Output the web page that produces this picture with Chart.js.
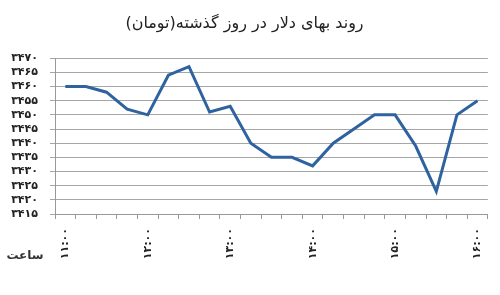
<!DOCTYPE html>
<html>
<head>
<meta charset="utf-8">
<title>روند بهای دلار</title>
<script src="https://cdn.jsdelivr.net/npm/chart.js"></script>
<style>
  html, body { margin: 0; padding: 0; background: #fff; }
  #wrap { width: 500px; height: 295px; }
</style>
</head>
<body>
<div id="wrap"><canvas id="dollarChart"></canvas></div>
<script>
// time of day, every 15 minutes from 11:00 to 16:00
const times = ['۱۱:۰۰','۱۱:۱۵','۱۱:۳۰','۱۱:۴۵','۱۲:۰۰','۱۲:۱۵','۱۲:۳۰','۱۲:۴۵','۱۳:۰۰','۱۳:۱۵','۱۳:۳۰',
               '۱۳:۴۵','۱۴:۰۰','۱۴:۱۵','۱۴:۳۰','۱۴:۴۵','۱۵:۰۰','۱۵:۱۵','۱۵:۳۰','۱۵:۴۵','۱۶:۰۰'];
// price in toman
const prices = [3460, 3460, 3458, 3452, 3450, 3464, 3467, 3451, 3453, 3440, 3435,
                3435, 3432, 3440, 3445, 3450, 3450, 3439, 3423, 3450, 3455];
// y axis labels, bottom to top
const yTickLabels = ['۳۴۱۵','۳۴۲۰','۳۴۲۵','۳۴۳۰','۳۴۳۵','۳۴۴۰','۳۴۴۵','۳۴۵۰','۳۴۵۵','۳۴۶۰','۳۴۶۵','۳۴۷۰'];

const titleText = 'روند بهای دلار در روز گذشته(تومان)';
const xAxisName = 'ساعت';

const faFont = "'DejaVu Sans', sans-serif";

// draws the small "hour" caption left of the x labels
const axisNamePlugin = {
    id: 'axisName',
    afterDraw(chart) {
        const ctx = chart.ctx;
        const area = chart.chartArea;
        ctx.save();
        ctx.font = 'bold 12px ' + faFont;
        ctx.fillStyle = '#333';
        ctx.textAlign = 'center';
        ctx.textBaseline = 'middle';
        ctx.fillText(xAxisName, area.left - 30, area.bottom + 42);
        ctx.restore();
    }
};

const ctx = document.getElementById('dollarChart').getContext('2d');
const dollarChart = new Chart(ctx, {
    type: 'line',
    data: {
        labels: times,
        datasets: [{
            label: 'قیمت',
            data: prices,
            borderColor: '#2f63a0',
            borderWidth: 3,
            pointRadius: 0,
            fill: false,
            tension: 0
        }]
    },
    options: {
        responsive: true,
        maintainAspectRatio: false,
        animation: false,
        layout: { padding: { left: 0, right: 11, top: 0, bottom: 0 } },
        plugins: {
            legend: { display: false },
            tooltip: { enabled: false },
            title: {
                display: true,
                text: titleText,
                color: '#222',
                font: { family: faFont, size: 16, weight: 'normal' },
                padding: { top: 14, bottom: 25 }
            }
        },
        scales: {
            x: {
                offset: true,
                grid: { drawOnChartArea: false, offset: true, tickLength: 5, color: '#999' },
                border: { color: '#999' },
                ticks: {
                    autoSkip: false,
                    minRotation: 90,
                    maxRotation: 90,
                    padding: 9,
                    color: '#222',
                    font: { family: faFont, size: 11, weight: 'bold' },
                    callback: function(value, index) {
                        return index % 4 === 0 ? times[index] : '';
                    }
                },
                afterFit: function(scale) { scale.height = 81; }
            },
            y: {
                min: 3415,
                max: 3470,
                ticks: {
                    stepSize: 5,
                    autoSkip: false,
                    padding: 12,
                    color: '#222',
                    font: { family: faFont, size: 11, weight: 'bold' },
                    callback: function(value, index) { return yTickLabels[index]; }
                },
                grid: { color: '#a6a6a6', tickLength: 5 },
                border: { color: '#999' },
                afterFit: function(scale) { scale.width = 55; }
            }
        }
    },
    plugins: [axisNamePlugin]
});
</script>
</body>
</html>
